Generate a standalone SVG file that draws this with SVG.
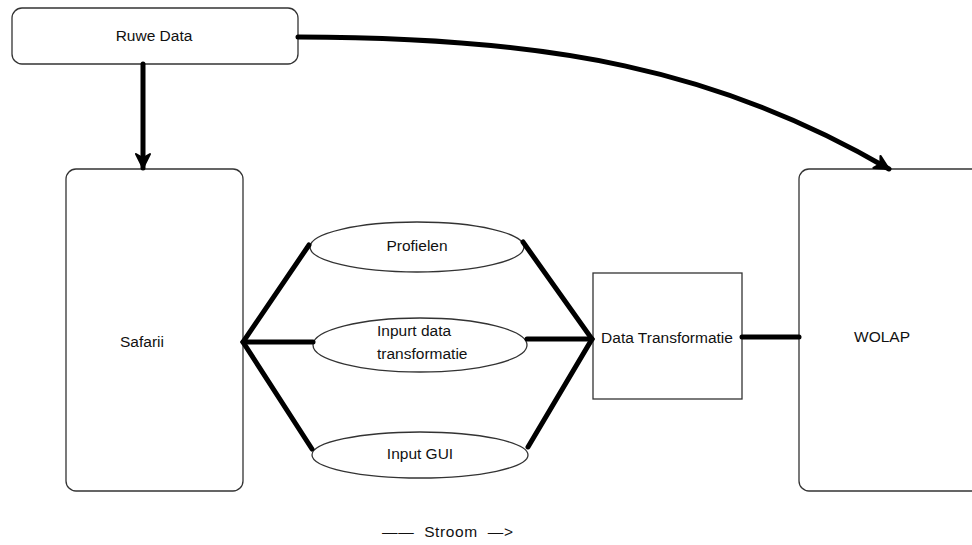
<svg xmlns="http://www.w3.org/2000/svg" width="972" height="545" viewBox="0 0 972 545">
<defs>
<style>
.box{fill:#fff;stroke:#333;stroke-width:1.3}
.lbl{font-family:"Liberation Sans",Arial,sans-serif;font-size:15.5px;fill:#111}
.con{fill:none;stroke:#000;stroke-width:5;stroke-linecap:round}
</style>
<marker id="ah" markerUnits="userSpaceOnUse" markerWidth="20" markerHeight="20" viewBox="0 0 20 20" refX="16" refY="10" orient="auto">
<path d="M2,3 L16,10 L2,17 L6,10 Z" fill="#000" stroke="#000" stroke-width="2" stroke-linejoin="round"/>
</marker>
</defs>
<rect width="972" height="545" fill="#fff"/>
<g id="ruwe-data">
<rect class="box" x="12" y="8" width="286" height="56" rx="10"/>
<text class="lbl" x="154" y="41" text-anchor="middle">Ruwe Data</text>
</g>
<g id="safarii">
<rect class="box" x="66" y="169" width="177" height="322" rx="10"/>
<text class="lbl" x="142" y="347" text-anchor="middle">Safarii</text>
</g>
<g id="wolap">
<rect class="box" x="799" y="169" width="185" height="322" rx="10"/>
<text class="lbl" x="882" y="342" text-anchor="middle">WOLAP</text>
</g>
<g id="data-transformatie">
<rect class="box" x="593" y="273" width="149" height="126"/>
<text class="lbl" x="667" y="343" text-anchor="middle">Data Transformatie</text>
</g>
<g id="profielen">
<ellipse class="box" cx="417" cy="247" rx="107" ry="25"/>
<text class="lbl" x="417" y="251" text-anchor="middle">Profielen</text>
</g>
<g id="inpurt-data">
<ellipse class="box" cx="420" cy="345" rx="107" ry="27"/>
<text class="lbl" x="377" y="336">Inpurt data</text>
<text class="lbl" x="377" y="359">transformatie</text>
</g>
<g id="input-gui">
<ellipse class="box" cx="420" cy="455" rx="108" ry="23"/>
<text class="lbl" x="420" y="459" text-anchor="middle">Input GUI</text>
</g>
<g id="connectors">
<path class="con" d="M143,64 L143,168" marker-end="url(#ah)"/>
<path class="con" d="M298,37 C550,37 720,70 889,169" marker-end="url(#ah)"/>
<path class="con" d="M309,245 L243,342 L312,449"/>
<path class="con" d="M243,342 L313,342"/>
<path class="con" d="M523,242 L592,339 L528,447"/>
<path class="con" d="M527,339 L592,339"/>
<path class="con" d="M742,337 L799,337"/>
</g>
<g id="legend">
<text class="lbl" x="382" y="537" textLength="131" lengthAdjust="spacing" xml:space="preserve">——  Stroom  —&gt;</text>
</g>
</svg>
